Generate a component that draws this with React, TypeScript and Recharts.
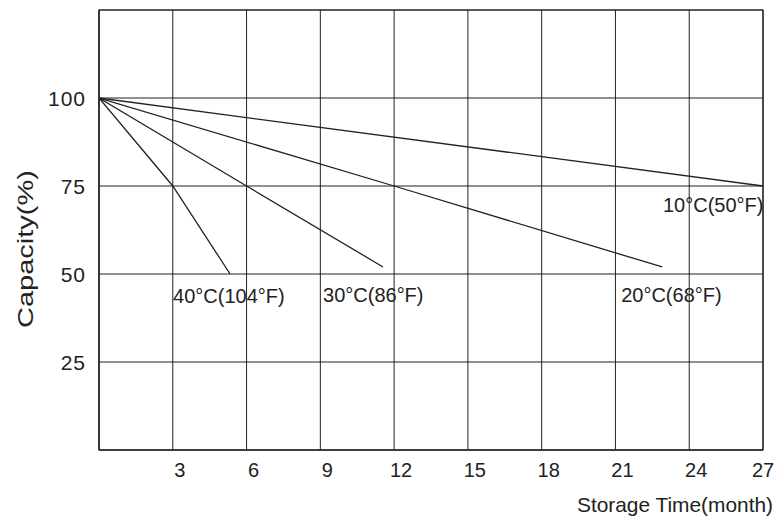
import React from 'react';
import { LineChart, Line, XAxis, YAxis, CartesianGrid, ReferenceArea, Label } from 'recharts';

// storage time (months) and remaining capacity (%) per temperature
const months10 = [0, 27];
const capacity10 = [100, 75];
const months20 = [0, 12, 22.9];
const capacity20 = [100, 75, 52];
const months30 = [0, 6, 11.55];
const capacity30 = [100, 75, 52];
const months40 = [0, 3, 5.33];
const capacity40 = [100, 75, 50];

const xTicks = [3, 6, 9, 12, 15, 18, 21, 24, 27];
const yTicks = [25, 50, 75, 100];

const toData = (months: number[], caps: number[]) => months.map((m, i) => ({ month: m, capacity: caps[i] }));

const series = [
  { key: '10', data: toData(months10, capacity10), label: '10°C(50°F)', dx: -100, dy: 19 },
  { key: '20', data: toData(months20, capacity20), label: '20°C(68°F)', dx: -41, dy: 28 },
  { key: '30', data: toData(months30, capacity30), label: '30°C(86°F)', dx: -60, dy: 28 },
  { key: '40', data: toData(months40, capacity40), label: '40°C(104°F)', dx: -57, dy: 22 },
];

const FONT = 'Liberation Sans, Arial, sans-serif';
const INK = '#222';

const XTick = (props: any) => {
  const { x, y, payload } = props;
  const off = payload.value === 27 ? 0 : 7;
  return (
    <text x={x + off} y={y + 18} textAnchor="middle" dominantBaseline="central" fontSize={20} fill={INK} fontFamily={FONT}>
      {payload.value}
    </text>
  );
};

const YTick = (props: any) => {
  const { x, y, payload } = props;
  return (
    <text x={x - 11} y={y} textAnchor="end" dominantBaseline="central" fontSize={21} letterSpacing={1} fill={INK} fontFamily={FONT}>
      {payload.value}
    </text>
  );
};

const endLabel = (text: string, count: number, dx: number, dy: number) => (props: any) => {
  const { x, y, index } = props;
  if (index !== count - 1) return null;
  return (
    <text x={x + dx} y={y + dy} dominantBaseline="central" fontSize={20} fill={INK} fontFamily={FONT}>
      {text}
    </text>
  );
};

export default function App() {
  return (
    <div style={{ position: 'absolute', left: 0, top: 0, background: '#fff' }}>
      <LineChart width={776} height={529} margin={{ top: 10, right: 13, left: 0, bottom: 0 }}>
        <CartesianGrid stroke={INK} strokeWidth={1} />
        <XAxis
          type="number"
          dataKey="month"
          domain={[0, 27]}
          ticks={xTicks}
          tick={<XTick />}
          tickLine={false}
          tickSize={0}
          height={79}
          axisLine={{ stroke: INK }}
          allowDataOverflow
        >
          <Label
            content={(p: any) => {
              const vb = p.viewBox;
              return (
                <text
                  x={773}
                  y={vb.y + 54}
                  textAnchor="end"
                  dominantBaseline="central"
                  fontSize={21}
                  textLength={196}
                  lengthAdjust="spacingAndGlyphs"
                  fill={INK}
                  fontFamily={FONT}
                >
                  Storage  Time(month)
                </text>
              );
            }}
          />
        </XAxis>
        <YAxis
          type="number"
          domain={[0, 125]}
          ticks={yTicks}
          tick={<YTick />}
          tickLine={false}
          tickSize={0}
          width={99}
          axisLine={{ stroke: INK }}
          allowDataOverflow
        >
          <Label
            content={() => (
              <text
                x={25}
                y={249}
                transform="rotate(-90 25 249)"
                textAnchor="middle"
                dominantBaseline="central"
                fontSize={22}
                textLength={158}
                lengthAdjust="spacingAndGlyphs"
                fill={INK}
                fontFamily={FONT}
              >
                Capacity(%)
              </text>
            )}
          />
        </YAxis>
        <ReferenceArea x1={0} x2={27} y1={0} y2={125} fill="none" stroke={INK} strokeWidth={1.2} />
        {series.map(s => (
          <Line
            key={s.key}
            data={s.data}
            dataKey="capacity"
            type="linear"
            stroke={INK}
            strokeWidth={1.3}
            dot={false}
            activeDot={false}
            isAnimationActive={false}
            label={endLabel(s.label, s.data.length, s.dx, s.dy)}
          />
        ))}
      </LineChart>
    </div>
  );
}
